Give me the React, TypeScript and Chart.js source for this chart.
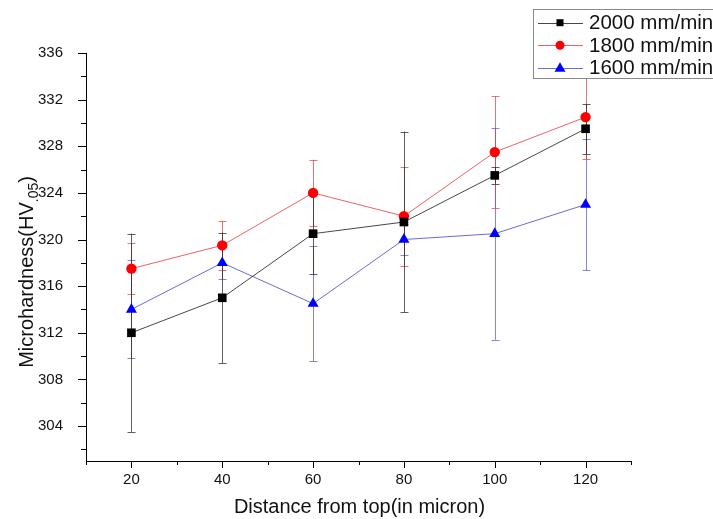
import React, { useEffect, useRef } from 'react';
import { Chart, registerables } from 'chart.js';

Chart.register(...registerables);

const FONT = "'Liberation Sans', Arial, sans-serif";

const distances = [20, 40, 60, 80, 100, 120];

const seriesLabels = ['2000 mm/min', '1800 mm/min', '1600 mm/min'];
const series2000 = [312, 315, 320.5, 321.5, 325.5, 329.5];
const err2000 = [8.5, 5.6, 3.5, 7.75, 0.7, 2.15];
const series1800 = [317.5, 319.5, 324, 322, 327.5, 330.5];
const err1800 = [2.2, 2.1, 2.85, 4.25, 4.8, 3.6];
const series1600 = [314, 318, 314.5, 320, 320.5, 323];
const err1600 = [4.2, 1.4, 4.95, 1.35, 9.1, 5.65];

const xTickValues = [10, 20, 30, 40, 50, 60, 70, 80, 90, 100, 110, 120, 130];
const xTickLabels = [20, 40, 60, 80, 100, 120];
const yTickValues = [302, 304, 306, 308, 310, 312, 314, 316, 318, 320, 322, 324, 326, 328, 330, 332, 334, 336];
const yTickLabels = [304, 308, 312, 316, 320, 324, 328, 332, 336];

const xTitle = 'Distance from top(in micron)';
const yTitleMain = 'Microhardness(HV';
const yTitleSub = '.05';
const yTitleEnd = ')';

const markerColors = ['#000000', '#ff0000', '#0000ff'];
const lineColors = ['rgba(40,40,40,0.85)', 'rgba(230,60,60,0.8)', 'rgba(70,70,200,0.8)'];
const errColors = ['rgba(40,40,40,0.75)', 'rgba(220,60,60,0.7)', 'rgba(80,80,200,0.7)'];
const pointStyles = ['rect', 'circle', 'triangle'];
const pointRadii = [6.1, 5.2, 6.4];
const allSeries = [series2000, series1800, series1600];
const allErrors = [err2000, err1800, err1600];

const errorBarPlugin = {
  id: 'errorBars',
  beforeDatasetsDraw(chart: any) {
    const ctx = chart.ctx;
    const xs = chart.scales.x;
    const ys = chart.scales.y;
    ctx.save();
    ctx.lineWidth = 1;
    for (let i = allSeries.length - 1; i >= 0; i--) {
      ctx.strokeStyle = errColors[i];
      allSeries[i].forEach((v, j) => {
        const e = allErrors[i][j];
        const px = Math.round(xs.getPixelForValue(distances[j])) + 0.5;
        const yt = ys.getPixelForValue(v + e);
        const yb = ys.getPixelForValue(v - e);
        ctx.beginPath();
        ctx.moveTo(px, yt);
        ctx.lineTo(px, yb);
        ctx.moveTo(px - 4, Math.round(yt) + 0.5);
        ctx.lineTo(px + 4, Math.round(yt) + 0.5);
        ctx.moveTo(px - 4, Math.round(yb) + 0.5);
        ctx.lineTo(px + 4, Math.round(yb) + 0.5);
        ctx.stroke();
      });
    }
    ctx.restore();
  },
};

const axisDecorPlugin = {
  id: 'axisDecor',
  afterDraw(chart: any) {
    const ctx = chart.ctx;
    const xs = chart.scales.x;
    const ys = chart.scales.y;
    const area = chart.chartArea;
    ctx.save();
    ctx.strokeStyle = '#000';
    ctx.lineWidth = 1;
    ctx.beginPath();
    xTickValues.forEach((v) => {
      const px = Math.round(xs.getPixelForValue(v)) + 0.5;
      const len = xTickLabels.includes(v) ? 7 : 4;
      ctx.moveTo(px, area.bottom);
      ctx.lineTo(px, area.bottom + len);
    });
    yTickValues.forEach((v) => {
      const py = Math.round(ys.getPixelForValue(v)) + 0.5;
      const len = yTickLabels.includes(v) ? 8 : 5;
      ctx.moveTo(area.left, py);
      ctx.lineTo(area.left - len, py);
    });
    ctx.stroke();

    // x title
    ctx.fillStyle = '#111';
    ctx.font = `20px ${FONT}`;
    ctx.textAlign = 'center';
    ctx.textBaseline = 'alphabetic';
    ctx.fillText(xTitle, (area.left + area.right) / 2 + 1, 513);

    // y title with subscript
    ctx.translate(33, 272);
    ctx.rotate(-Math.PI / 2);
    ctx.font = `20px ${FONT}`;
    const w1 = ctx.measureText(yTitleMain).width;
    const w3 = ctx.measureText(yTitleEnd).width;
    ctx.font = `14px ${FONT}`;
    const w2 = ctx.measureText(yTitleSub).width;
    const total = w1 + w2 + w3;
    let x0 = -total / 2;
    ctx.textAlign = 'left';
    ctx.font = `20px ${FONT}`;
    ctx.fillText(yTitleMain, x0, 0);
    x0 += w1;
    ctx.font = `14px ${FONT}`;
    ctx.fillText(yTitleSub, x0, 5);
    x0 += w2;
    ctx.font = `20px ${FONT}`;
    ctx.fillText(yTitleEnd, x0, 0);
    ctx.restore();

    // legend
    ctx.save();
    const bx = 533.5;
    const by = 9.5;
    ctx.fillStyle = '#fff';
    ctx.fillRect(bx, by, 200, 69);
    ctx.strokeStyle = '#8a8a8a';
    ctx.lineWidth = 1;
    ctx.strokeRect(bx, by, 200, 69);
    const rows = [22.7, 45.2, 67.7];
    chart.data.datasets.forEach((ds: any, i: number) => {
      const ry = rows[i];
      ctx.strokeStyle = lineColors[i];
      ctx.lineWidth = 1;
      ctx.beginPath();
      ctx.moveTo(538, Math.round(ry) + 0.5);
      ctx.lineTo(583, Math.round(ry) + 0.5);
      ctx.stroke();
      ctx.fillStyle = markerColors[i];
      const mx = 560;
      ctx.beginPath();
      if (pointStyles[i] === 'rect') {
        ctx.rect(mx - 3.5, ry - 3.5, 7, 7);
      } else if (pointStyles[i] === 'circle') {
        ctx.arc(mx, ry, 4.5, 0, Math.PI * 2);
      } else {
        ctx.moveTo(mx, ry - 5.5);
        ctx.lineTo(mx + 5.5, ry + 4);
        ctx.lineTo(mx - 5.5, ry + 4);
        ctx.closePath();
      }
      ctx.fill();
      ctx.fillStyle = '#111';
      ctx.font = `20.5px ${FONT}`;
      ctx.textAlign = 'left';
      ctx.textBaseline = 'middle';
      ctx.fillText(ds.label, 589, ry + 1);
    });
    ctx.restore();
  },
};

export default function App() {
  const canvasRef = useRef<HTMLCanvasElement | null>(null);

  useEffect(() => {
    if (!canvasRef.current) return;
    const datasets = allSeries.map((s, i) => ({
      label: seriesLabels[i],
      data: s.map((v, j) => ({ x: distances[j], y: v })),
      borderColor: lineColors[i],
      borderWidth: 1,
      backgroundColor: markerColors[i],
      pointBackgroundColor: markerColors[i],
      pointBorderColor: markerColors[i],
      pointBorderWidth: 0,
      pointStyle: pointStyles[i],
      pointRadius: pointRadii[i],
      pointHoverRadius: pointRadii[i],
      showLine: true,
      fill: false,
      tension: 0,
    }));
    const chart = new Chart(canvasRef.current, {
      type: 'scatter',
      data: { datasets },
      plugins: [errorBarPlugin, axisDecorPlugin],
      options: {
        animation: false,
        responsive: false,
        devicePixelRatio: 1,
        layout: { padding: { top: 53, right: 82, bottom: 0, left: 0 } },
        plugins: {
          legend: { display: false },
          tooltip: { enabled: false },
          title: { display: false },
        },
        scales: {
          x: {
            type: 'linear',
            position: 'bottom',
            min: 10,
            max: 130,
            afterBuildTicks: (s: any) => {
              s.ticks = xTickValues.map((v) => ({ value: v }));
            },
            afterFit: (s: any) => {
              s.height = 58;
            },
            ticks: {
              autoSkip: false,
              maxRotation: 0,
              padding: 3,
              color: '#111',
              font: { family: FONT, size: 15 },
              callback: (v: any) => (xTickLabels.includes(Number(v)) ? String(v) : ''),
            },
            grid: {
              display: true,
              drawOnChartArea: false,
              drawTicks: true,
              tickLength: 7,
              color: 'rgba(0,0,0,0)',
              tickColor: 'rgba(0,0,0,0)',
            },
            border: { display: true, color: '#000', width: 1 },
          },
          y: {
            type: 'linear',
            position: 'left',
            min: 301,
            max: 336,
            afterBuildTicks: (s: any) => {
              s.ticks = yTickValues.map((v) => ({ value: v }));
            },
            afterFit: (s: any) => {
              s.width = 86;
            },
            ticks: {
              autoSkip: false,
              padding: 15,
              color: '#111',
              font: { family: FONT, size: 15 },
              callback: (v: any) => (yTickLabels.includes(Number(v)) ? String(v) : ''),
            },
            grid: {
              display: true,
              drawOnChartArea: false,
              drawTicks: true,
              tickLength: 8,
              color: 'rgba(0,0,0,0)',
              tickColor: 'rgba(0,0,0,0)',
            },
            border: { display: true, color: '#000', width: 1 },
          },
        },
      } as any,
    });
    return () => chart.destroy();
  }, []);

  return (
    <div style={{ position: 'fixed', left: 0, top: 0, width: 713, height: 519, background: '#fff' }}>
      <canvas ref={canvasRef} width={713} height={519} style={{ display: 'block', width: 713, height: 519 }} />
    </div>
  );
}
